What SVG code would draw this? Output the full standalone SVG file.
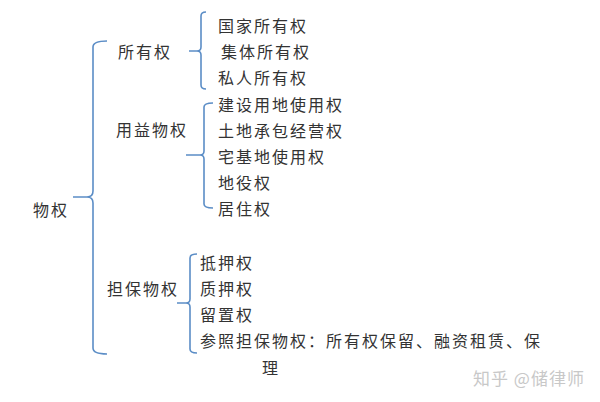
<svg xmlns="http://www.w3.org/2000/svg" width="600" height="402" viewBox="0 0 600 402">
<style>
text{font-family:"Noto Sans CJK SC","Noto Sans",sans-serif;font-size:16px;letter-spacing:2px;fill:#333;dominant-baseline:central}
.br{fill:none;stroke:#5b8dc6;stroke-width:1.6}
.wm{fill:#c8c8c8;font-size:17px;letter-spacing:1px}
</style>
<rect width="600" height="402" fill="#fff"/>
<g id="connectors">
<path class="br" d="M107,41 Q93,41 93,47 L93,191 Q93,197 87,197 L73,197 M87,197 Q93,197 93,203 L93,348 Q93,354 107,354"/>
<path class="br" d="M206,12 Q201,12 201,16 L201,47 Q201,51 197,51 L189,51 M197,51 Q201,51 201,55 L201,85 Q201,89 206,89"/>
<path class="br" d="M213,103 Q204,103 204,107 L204,151 Q204,155 200,155 L186,155 M200,155 Q204,155 204,159 L204,204 Q204,208 213,208"/>
<path class="br" d="M197,254 Q190,254 190,258 L190,299 Q190,303 186,303 L177,303 M186,303 Q190,303 190,307 L190,349 Q190,353 197,353"/>
</g>
<g id="root"><text x="33" y="209">物权</text></g>
<g id="n-ownership"><text x="118" y="51">所有权</text></g>
<g id="n-usufruct"><text x="116" y="129">用益物权</text></g>
<g id="n-security"><text x="107" y="288">担保物权</text></g>
<g id="c-1"><text x="218" y="25">国家所有权</text></g>
<g id="c-2"><text x="221" y="51">集体所有权</text></g>
<g id="c-3"><text x="218" y="77">私人所有权</text></g>
<g id="c-4"><text x="218" y="104">建设用地使用权</text></g>
<g id="c-5"><text x="218" y="130">土地承包经营权</text></g>
<g id="c-6"><text x="218" y="156">宅基地使用权</text></g>
<g id="c-7"><text x="218" y="182">地役权</text></g>
<g id="c-8"><text x="218" y="208">居住权</text></g>
<g id="c-9"><text x="200" y="262">抵押权</text></g>
<g id="c-10"><text x="200" y="288">质押权</text></g>
<g id="c-11"><text x="200" y="314">留置权</text></g>
<g id="c-12"><text x="200" y="340">参照担保物权：所有权保留、融资租赁、保</text><text x="262" y="367">理</text></g>
<text class="wm" x="473" y="377">知乎 @储律师</text>
</svg>
